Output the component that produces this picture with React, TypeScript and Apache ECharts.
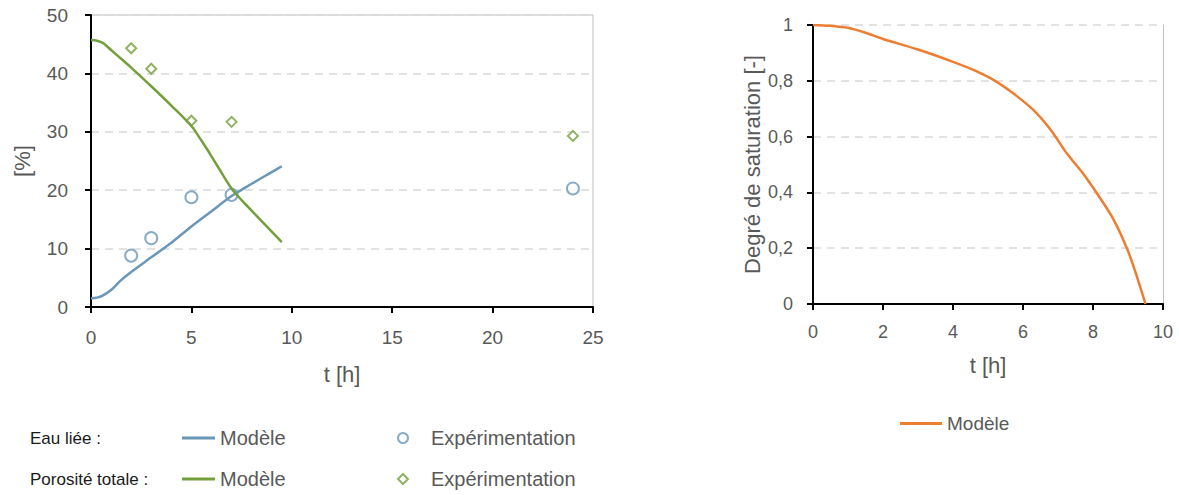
import React, { useEffect, useRef } from "react";
import * as echarts from "echarts";

// Left chart: bound water ("Eau liée") and total porosity ("Porosité totale")
const eauModeleT = [0, 0.3, 0.6, 1, 1.5, 2, 3, 4, 5, 6, 7, 8, 9, 9.5];
const eauModeleY = [1.5, 1.6, 2.0, 2.9, 4.6, 6.0, 8.5, 11.0, 13.8, 16.4, 19.0, 21.1, 23.1, 24.1];
const eauExpT = [2, 3, 5, 7, 24];
const eauExpY = [8.8, 11.8, 18.8, 19.2, 20.3];

const poroModeleT = [0, 0.3, 0.6, 1, 1.5, 2, 3, 4, 5, 5.5, 6, 6.5, 7, 7.5, 8, 9, 9.5];
const poroModeleY = [45.7, 45.6, 45.2, 44.0, 42.5, 41.0, 37.8, 34.5, 31.0, 28.5, 25.8, 23.0, 20.3, 18.3, 16.5, 12.9, 11.1];
const poroExpT = [2, 3, 5, 7, 24];
const poroExpY = [44.3, 40.8, 31.9, 31.7, 29.3];

// Right chart: degree of saturation
const satT = [0, 0.5, 1, 1.5, 2, 3, 4, 4.6, 5.2, 5.7, 6.3, 6.8, 7.25, 7.7, 8.2, 8.6, 9, 9.25, 9.5];
const satY = [1.0, 0.997, 0.99, 0.972, 0.95, 0.912, 0.868, 0.838, 0.8, 0.757, 0.695, 0.623, 0.54, 0.47, 0.38, 0.3, 0.19, 0.1, 0.0];

const leftXTicks = { min: 0, max: 25, interval: 5 };
const leftYTicks = { min: 0, max: 50, interval: 10 };
const rightXTicks = { min: 0, max: 10, interval: 2 };
const rightYTicks = { min: 0, max: 1, interval: 0.2 };

const zip = (a: number[], b: number[]) => a.map((v, i) => [v, b[i]]);

const FONT = "'Liberation Sans', Arial, sans-serif";
const GREY_TEXT = "#595959";
const BLUE = "#6a96b8";
const GREEN = "#74a03c";
const ORANGE = "#ed7d31";

const N_EAU_MOD = "Modèle (eau liée)";
const N_EAU_EXP = "Expérimentation (eau liée)";
const N_PORO_MOD = "Modèle (porosité)";
const N_PORO_EXP = "Expérimentation (porosité)";
const N_SAT = "Modèle";

const legendFormatter = (name: string) =>
  name.startsWith("Modèle") ? "Modèle" : "Expérimentation";

export default function App() {
  const ref = useRef<HTMLDivElement>(null);
  useEffect(() => {
    document.body.style.margin = "0";
    if (!ref.current) return;
    const chart = echarts.init(ref.current, undefined, { renderer: "svg" });

    const axisLabel = { color: GREY_TEXT, fontSize: 19, fontFamily: FONT };
    const nameStyle = { color: GREY_TEXT, fontSize: 22, fontFamily: FONT };
    const blackLine = { show: true, lineStyle: { color: "#000", width: 2 } };
    const blackTick = { show: true, inside: false, length: 6, lineStyle: { color: "#000", width: 2 } };
    const dashed = { show: true, lineStyle: { color: "#d9d9d9", type: [8, 6] as any, width: 1.5 } };

    const legendBase = {
      orient: "horizontal",
      padding: 0,
      formatter: legendFormatter,
      selectedMode: false,
      textStyle: { color: GREY_TEXT, fontSize: 20, fontFamily: FONT },
    };

    chart.setOption({
      animation: false,
      textStyle: { fontFamily: FONT },
      grid: [
        { left: 91, top: 15, width: 502, height: 292, show: true, borderColor: "#bfbfbf", borderWidth: 1, containLabel: false },
        { left: 813, top: 25, width: 350, height: 279, containLabel: false },
      ],
      xAxis: [
        {
          gridIndex: 0, type: "value", ...leftXTicks,
          axisLine: blackLine, axisTick: blackTick, splitLine: { show: false },
          axisLabel: { ...axisLabel, margin: 21 },
          name: "t [h]", nameLocation: "middle", nameGap: 56, nameTextStyle: nameStyle,
        },
        {
          gridIndex: 1, type: "value", ...rightXTicks,
          axisLine: blackLine, axisTick: blackTick, splitLine: { show: false },
          axisLabel: { ...axisLabel, fontSize: 18, margin: 19 },
          name: "t [h]", nameLocation: "middle", nameGap: 50, nameTextStyle: nameStyle,
        },
      ],
      yAxis: [
        {
          gridIndex: 0, type: "value", ...leftYTicks,
          axisLine: blackLine, axisTick: blackTick, splitLine: dashed,
          axisLabel: { ...axisLabel, margin: 23 },
          name: "[%]", nameLocation: "middle", nameGap: 58, nameTextStyle: nameStyle,
        },
        {
          gridIndex: 1, type: "value", ...rightYTicks,
          axisLine: blackLine, axisTick: blackTick, splitLine: dashed,
          axisLabel: {
            ...axisLabel, fontSize: 18, margin: 20,
            formatter: (v: number) => String(Math.round(v * 10) / 10).replace(".", ","),
          },
          name: "Degré de saturation [-]", nameLocation: "middle", nameGap: 50, nameTextStyle: nameStyle,
        },
        {
          gridIndex: 1, type: "value", position: "right", ...rightYTicks,
          axisLine: { show: true, lineStyle: { color: "#bfbfbf", width: 1 } },
          axisTick: { show: false }, axisLabel: { show: false }, splitLine: { show: false },
        },
      ],
      legend: [
        { ...legendBase, data: [{ name: N_EAU_MOD, icon: "rect" }], left: 182, top: 428, itemWidth: 33, itemHeight: 3 },
        { ...legendBase, data: [N_EAU_EXP], left: 397, top: 428, itemWidth: 10, itemHeight: 10, itemGap: 0, textStyle: { ...legendBase.textStyle, padding: [0, 0, 0, 18] } },
        { ...legendBase, data: [{ name: N_PORO_MOD, icon: "rect" }], left: 182, top: 469, itemWidth: 33, itemHeight: 3 },
        { ...legendBase, data: [N_PORO_EXP], left: 397, top: 469, itemWidth: 10, itemHeight: 10, itemGap: 0, textStyle: { ...legendBase.textStyle, padding: [0, 0, 0, 18] } },
        { ...legendBase, data: [{ name: N_SAT, icon: "rect" }], left: 900, top: 414, itemWidth: 42, itemHeight: 3, textStyle: { ...legendBase.textStyle, fontSize: 19 } },
      ],
      graphic: [
        { type: "text", left: 30, top: 430, style: { text: "Eau liée :", fill: "#1a1a1a", fontSize: 17, fontFamily: FONT } },
        { type: "text", left: 30, top: 471, style: { text: "Porosité totale :", fill: "#1a1a1a", fontSize: 17, fontFamily: FONT } },
      ],
      series: [
        {
          name: N_EAU_MOD, type: "line", xAxisIndex: 0, yAxisIndex: 0, data: zip(eauModeleT, eauModeleY),
          smooth: 0.3, symbol: "none", lineStyle: { color: BLUE, width: 2.5 }, itemStyle: { color: BLUE },
        },
        {
          name: N_PORO_MOD, type: "line", xAxisIndex: 0, yAxisIndex: 0, data: zip(poroModeleT, poroModeleY),
          smooth: 0.3, symbol: "none", lineStyle: { color: GREEN, width: 2.5 }, itemStyle: { color: GREEN },
        },
        {
          name: N_EAU_EXP, type: "scatter", xAxisIndex: 0, yAxisIndex: 0, data: zip(eauExpT, eauExpY),
          symbol: "emptyCircle", symbolSize: 12, itemStyle: { color: BLUE, borderColor: BLUE, borderWidth: 1.5 },
        },
        {
          name: N_PORO_EXP, type: "scatter", xAxisIndex: 0, yAxisIndex: 0, data: zip(poroExpT, poroExpY),
          symbol: "emptyDiamond", symbolSize: 10, itemStyle: { color: GREEN, borderColor: GREEN, borderWidth: 1.5 },
        },
        {
          name: N_SAT, type: "line", xAxisIndex: 1, yAxisIndex: 1, data: zip(satT, satY),
          smooth: 0.3, symbol: "none", lineStyle: { color: ORANGE, width: 2.5 }, itemStyle: { color: ORANGE },
        },
      ],
    });
    return () => chart.dispose();
  }, []);
  return <div ref={ref} style={{ width: 1179, height: 495 }} />;
}
